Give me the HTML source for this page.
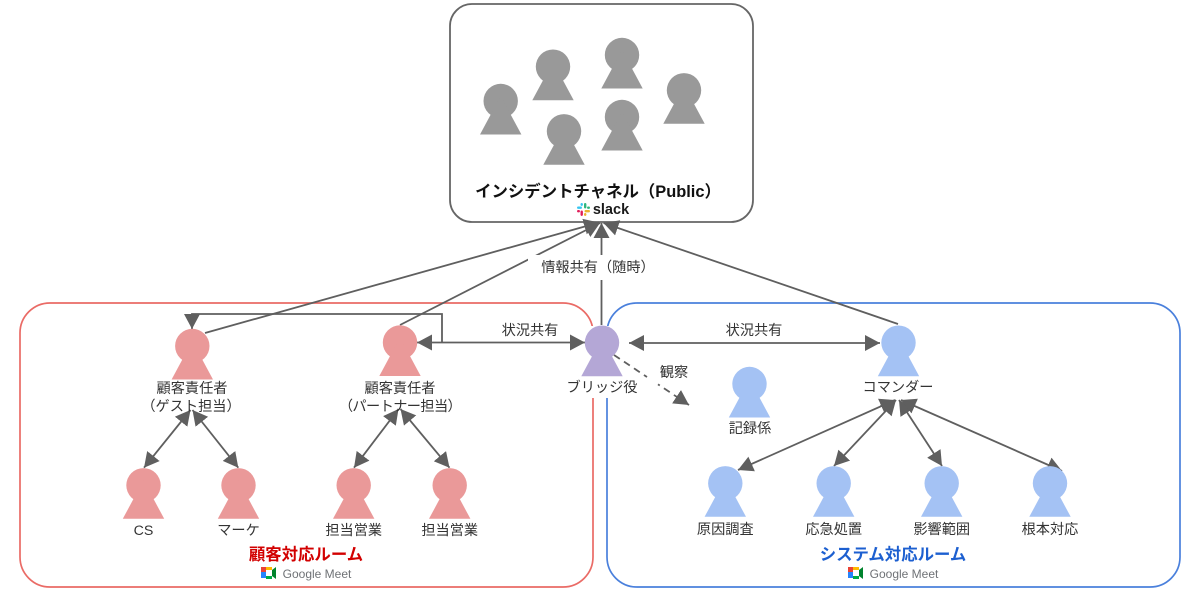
<!DOCTYPE html>
<html lang="ja"><head><meta charset="utf-8"><title>インシデント対応体制</title>
<style>
html,body{margin:0;padding:0;background:#fff;width:1200px;height:595px;overflow:hidden}
svg{display:block}
text{font-family:"Liberation Sans","Noto Sans CJK JP",sans-serif;font-size:14.200px;fill:#333;text-anchor:middle}
.b{font-weight:700;font-size:16.400px}
.l{fill:none;stroke:#5f5f5f;stroke-width:1.800}
</style></head><body>
<svg width="1200" height="595" viewBox="0 0 1200 595" xmlns="http://www.w3.org/2000/svg">
<defs>
<marker id="a" markerUnits="userSpaceOnUse" markerWidth="16" markerHeight="17" refX="15" refY="8" orient="auto-start-reverse"><path d="M0 0L15 8L0 16z" fill="#5f5f5f"/></marker>
<g id="p"><circle cx="0" cy="0" r="17.200"/><path d="M0-5L20.700 33.500H-20.700z"/></g>
</defs>
<rect x="20" y="303" width="573" height="284" rx="30" fill="none" stroke="#ea6b66" stroke-width="1.700"/>
<rect x="607" y="303" width="573" height="284" rx="30" fill="none" stroke="#4a80dc" stroke-width="1.700"/>
<rect x="450" y="4" width="303" height="218" rx="22" fill="#fff" stroke="#666" stroke-width="1.800"/>
<rect x="585" y="326" width="30" height="72" fill="#fff"/>

<g class="l">
<path d="M205 333L599 222.500" marker-end="url(#a)"/>
<path d="M400 325L600 223" marker-end="url(#a)"/>
<path d="M601.500 325V223" marker-end="url(#a)"/>
<path d="M898 324L603.500 223" marker-end="url(#a)"/>
<path d="M442 342V314H192V329" marker-end="url(#a)"/>
<path d="M417 342.500H585" marker-start="url(#a)" marker-end="url(#a)"/>
<path d="M629 343H880" marker-start="url(#a)" marker-end="url(#a)"/>
<path d="M614 355L689 405" stroke-dasharray="7 5" marker-end="url(#a)"/>
<path d="M190.500 410L144 467.700" marker-start="url(#a)" marker-end="url(#a)"/>
<path d="M192.500 410L238.300 467.700" marker-start="url(#a)" marker-end="url(#a)"/>
<path d="M398.500 409L354 467.700" marker-start="url(#a)" marker-end="url(#a)"/>
<path d="M400.500 409L449.500 467.700" marker-start="url(#a)" marker-end="url(#a)"/>
<path d="M895 400L738 470" marker-start="url(#a)" marker-end="url(#a)"/>
<path d="M896 400L834 466" marker-start="url(#a)" marker-end="url(#a)"/>
<path d="M899 400L942 466" marker-start="url(#a)" marker-end="url(#a)"/>
<path d="M901 400L1062 471" marker-start="url(#a)" marker-end="url(#a)"/>
</g>

<g fill="#999">
<use href="#p" x="500.700" y="101"/><use href="#p" x="553" y="66.700"/><use href="#p" x="622" y="55"/>
<use href="#p" x="684" y="90.300"/><use href="#p" x="564" y="131.300"/><use href="#p" x="622" y="117"/>
</g>
<g fill="#ea9999">
<use href="#p" x="192.300" y="346"/><use href="#p" x="400" y="342.500"/>
<use href="#p" x="143.500" y="485.300"/><use href="#p" x="238.500" y="485.300"/>
<use href="#p" x="353.700" y="485.300"/><use href="#p" x="449.700" y="485.300"/>
</g>
<use href="#p" x="602" y="342.700" fill="#b4a7d6"/>
<g fill="#a4c2f4">
<use href="#p" x="898.500" y="342.700"/><use href="#p" x="749.500" y="384"/>
<use href="#p" x="725.300" y="483.300"/><use href="#p" x="833.700" y="483.300"/>
<use href="#p" x="941.700" y="483.300"/><use href="#p" x="1050" y="483.300"/>
</g>

<rect x="528" y="255" width="140" height="25" fill="#fff"/>
<path d="M647 377L658 384.300" stroke="#fff" stroke-width="5"/>

<text class="b" x="598" y="197" style="fill:#111">インシデントチャネル（Public）</text>
<g transform="translate(577,203)">
<rect x="0" y="3.500" width="5" height="2.400" rx="1.200" fill="#36c5f0"/><rect x="3.500" y="0" width="2.400" height="3" rx="1.200" fill="#36c5f0"/>
<rect x="7" y="0" width="2.400" height="5.500" rx="1.200" fill="#2eb67d"/><rect x="10" y="3.500" width="3" height="2.400" rx="1.200" fill="#2eb67d"/>
<rect x="7.500" y="7" width="5.500" height="2.400" rx="1.200" fill="#ecb22e"/><rect x="7" y="10" width="2.400" height="3" rx="1.200" fill="#ecb22e"/>
<rect x="3.500" y="7.500" width="2.400" height="5.500" rx="1.200" fill="#e01e5a"/><rect x="0" y="7" width="3" height="2.400" rx="1.200" fill="#e01e5a"/>
</g>
<text x="611" y="214" style="font-size:14.500px;font-weight:700;fill:#1a1a1a">slack</text>

<text x="598" y="272">情報共有（随時）</text>
<text x="530" y="335">状況共有</text>
<text x="754" y="335">状況共有</text>
<text x="674" y="377">観察</text>
<text x="192" y="393">顧客責任者</text>
<text x="191" y="411">（ゲスト<tspan dx="0">担当</tspan>）</text>
<text x="400" y="393">顧客責任者</text>
<text x="400" y="411" style="letter-spacing:-.6px">（パートナー担当）</text>
<text x="602" y="392">ブリッジ役</text>
<text x="898" y="392">コマンダー</text>
<text x="750" y="433">記録係</text>
<text x="143.500" y="535">CS</text>
<text x="238.500" y="535">マーケ</text>
<text x="353.700" y="535">担当営業</text>
<text x="449.700" y="535">担当営業</text>
<text x="725.300" y="534">原因調査</text>
<text x="833.700" y="534">応急処置</text>
<text x="941.700" y="534">影響範囲</text>
<text x="1050" y="534">根本対応</text>
<text class="b" x="306" y="560" style="fill:#d20000">顧客対応ルーム</text>
<text class="b" x="893" y="560" style="fill:#1c5fd0">システム対応ルーム</text>

<g transform="translate(261,567)">
<rect x="0" y="0" width="5" height="5" fill="#ea4335"/><rect x="0" y="5" width="5" height="6" fill="#2684fc"/>
<rect x="5" y="0" width="6" height="3" fill="#ffba00"/><rect x="5" y="9" width="6" height="3" fill="#00ac47"/>
<path d="M11 3L15 0V12L11 9z" fill="#00832d"/>
</g>
<text x="317" y="578" style="font-size:12px;fill:#6f7276">Google Meet</text>
<g transform="translate(848,567)">
<rect x="0" y="0" width="5" height="5" fill="#ea4335"/><rect x="0" y="5" width="5" height="6" fill="#2684fc"/>
<rect x="5" y="0" width="6" height="3" fill="#ffba00"/><rect x="5" y="9" width="6" height="3" fill="#00ac47"/>
<path d="M11 3L15 0V12L11 9z" fill="#00832d"/>
</g>
<text x="904" y="578" style="font-size:12px;fill:#6f7276">Google Meet</text>
</svg>
</body></html>
